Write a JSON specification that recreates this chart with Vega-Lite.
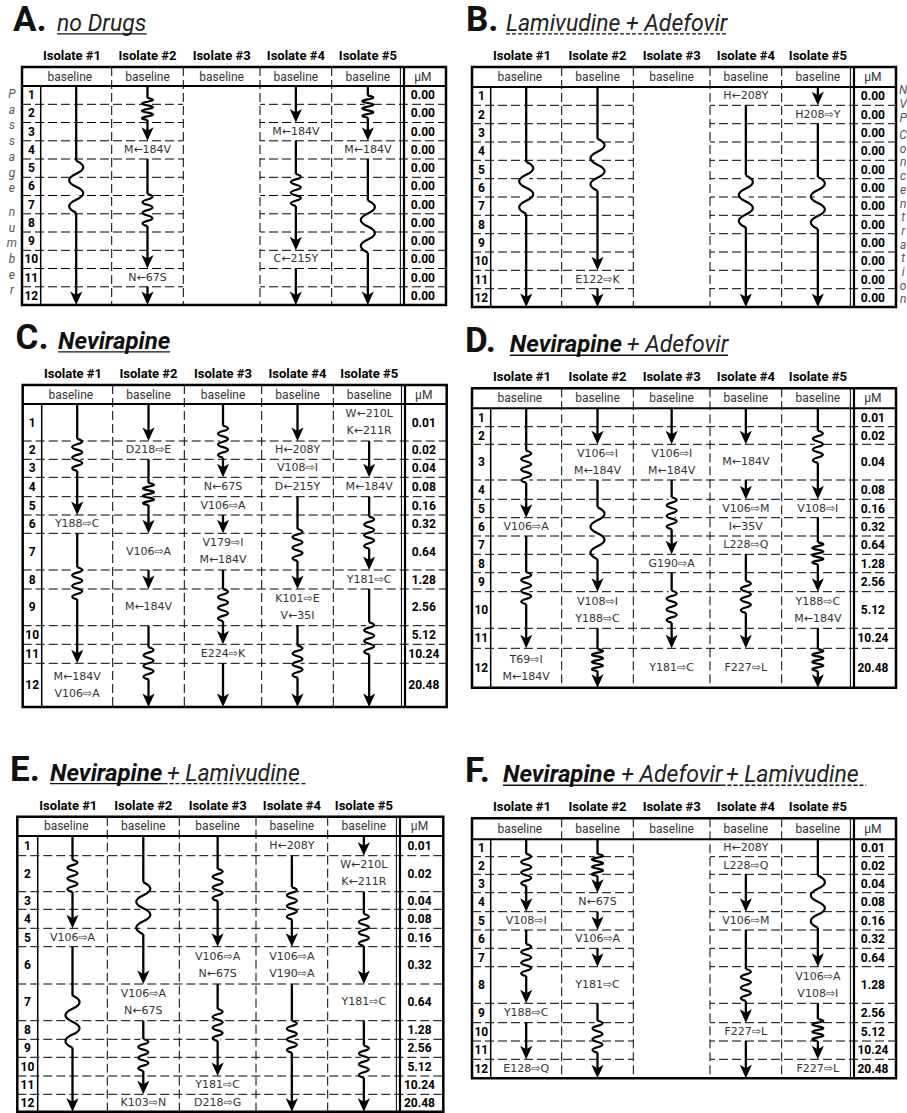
{
"$schema": "https://vega.github.io/schema/vega-lite/v6.json",
"padding": 0,
"spacing": 0,
"bounds": "flush",
"columns": 2,
"background": "white",
"config": {"view": {"stroke": null}, "axis": {"disable": true}, "legend": {"disable": true}, "text": {"font": "Roboto"}},
"datasets": {
"isolates": [{"iso":1,"name":"Isolate #1"},{"iso":2,"name":"Isolate #2"},{"iso":3,"name":"Isolate #3"},{"iso":4,"name":"Isolate #4"},{"iso":5,"name":"Isolate #5"}],
"rows": [
{"p":"A","passage":1,"conc":"0.00"},{"p":"A","passage":2,"conc":"0.00"},{"p":"A","passage":3,"conc":"0.00"},{"p":"A","passage":4,"conc":"0.00"},{"p":"A","passage":5,"conc":"0.00"},{"p":"A","passage":6,"conc":"0.00"},{"p":"A","passage":7,"conc":"0.00"},{"p":"A","passage":8,"conc":"0.00"},{"p":"A","passage":9,"conc":"0.00"},{"p":"A","passage":10,"conc":"0.00"},{"p":"A","passage":11,"conc":"0.00"},{"p":"A","passage":12,"conc":"0.00"},
{"p":"B","passage":1,"conc":"0.00"},{"p":"B","passage":2,"conc":"0.00"},{"p":"B","passage":3,"conc":"0.00"},{"p":"B","passage":4,"conc":"0.00"},{"p":"B","passage":5,"conc":"0.00"},{"p":"B","passage":6,"conc":"0.00"},{"p":"B","passage":7,"conc":"0.00"},{"p":"B","passage":8,"conc":"0.00"},{"p":"B","passage":9,"conc":"0.00"},{"p":"B","passage":10,"conc":"0.00"},{"p":"B","passage":11,"conc":"0.00"},{"p":"B","passage":12,"conc":"0.00"},
{"p":"C","passage":1,"conc":"0.01"},{"p":"C","passage":2,"conc":"0.02"},{"p":"C","passage":3,"conc":"0.04"},{"p":"C","passage":4,"conc":"0.08"},{"p":"C","passage":5,"conc":"0.16"},{"p":"C","passage":6,"conc":"0.32"},{"p":"C","passage":7,"conc":"0.64"},{"p":"C","passage":8,"conc":"1.28"},{"p":"C","passage":9,"conc":"2.56"},{"p":"C","passage":10,"conc":"5.12"},{"p":"C","passage":11,"conc":"10.24"},{"p":"C","passage":12,"conc":"20.48"},
{"p":"D","passage":1,"conc":"0.01"},{"p":"D","passage":2,"conc":"0.02"},{"p":"D","passage":3,"conc":"0.04"},{"p":"D","passage":4,"conc":"0.08"},{"p":"D","passage":5,"conc":"0.16"},{"p":"D","passage":6,"conc":"0.32"},{"p":"D","passage":7,"conc":"0.64"},{"p":"D","passage":8,"conc":"1.28"},{"p":"D","passage":9,"conc":"2.56"},{"p":"D","passage":10,"conc":"5.12"},{"p":"D","passage":11,"conc":"10.24"},{"p":"D","passage":12,"conc":"20.48"},
{"p":"E","passage":1,"conc":"0.01"},{"p":"E","passage":2,"conc":"0.02"},{"p":"E","passage":3,"conc":"0.04"},{"p":"E","passage":4,"conc":"0.08"},{"p":"E","passage":5,"conc":"0.16"},{"p":"E","passage":6,"conc":"0.32"},{"p":"E","passage":7,"conc":"0.64"},{"p":"E","passage":8,"conc":"1.28"},{"p":"E","passage":9,"conc":"2.56"},{"p":"E","passage":10,"conc":"5.12"},{"p":"E","passage":11,"conc":"10.24"},{"p":"E","passage":12,"conc":"20.48"},
{"p":"F","passage":1,"conc":"0.01"},{"p":"F","passage":2,"conc":"0.02"},{"p":"F","passage":3,"conc":"0.04"},{"p":"F","passage":4,"conc":"0.08"},{"p":"F","passage":5,"conc":"0.16"},{"p":"F","passage":6,"conc":"0.32"},{"p":"F","passage":7,"conc":"0.64"},{"p":"F","passage":8,"conc":"1.28"},{"p":"F","passage":9,"conc":"2.56"},{"p":"F","passage":10,"conc":"5.12"},{"p":"F","passage":11,"conc":"10.24"},{"p":"F","passage":12,"conc":"20.48"}
],
"arrows": [
{"p":"A","iso":1,"from":0,"to":12},{"p":"A","iso":2,"from":0,"to":3},{"p":"A","iso":2,"from":4,"to":10},{"p":"A","iso":2,"from":11,"to":12},{"p":"A","iso":4,"from":0,"to":2},{"p":"A","iso":4,"from":3,"to":9},{"p":"A","iso":4,"from":10,"to":12},{"p":"A","iso":5,"from":0,"to":3},{"p":"A","iso":5,"from":4,"to":12},
{"p":"B","iso":1,"from":0,"to":12},{"p":"B","iso":2,"from":0,"to":10},{"p":"B","iso":2,"from":11,"to":12},{"p":"B","iso":4,"from":1,"to":12},{"p":"B","iso":5,"from":0,"to":1},{"p":"B","iso":5,"from":2,"to":12},
{"p":"C","iso":1,"from":0,"to":5},{"p":"C","iso":1,"from":6,"to":11},{"p":"C","iso":2,"from":0,"to":1},{"p":"C","iso":2,"from":2,"to":6},{"p":"C","iso":2,"from":7,"to":8},{"p":"C","iso":2,"from":9,"to":12},{"p":"C","iso":3,"from":0,"to":3},{"p":"C","iso":3,"from":5,"to":6},{"p":"C","iso":3,"from":7,"to":10},{"p":"C","iso":3,"from":11,"to":12},{"p":"C","iso":4,"from":0,"to":1},{"p":"C","iso":4,"from":4,"to":8},{"p":"C","iso":4,"from":9,"to":12},{"p":"C","iso":5,"from":1,"to":3},{"p":"C","iso":5,"from":4,"to":7},{"p":"C","iso":5,"from":8,"to":12},
{"p":"D","iso":1,"from":0,"to":5},{"p":"D","iso":1,"from":6,"to":11},{"p":"D","iso":2,"from":0,"to":2},{"p":"D","iso":2,"from":3,"to":9},{"p":"D","iso":2,"from":10,"to":12},{"p":"D","iso":3,"from":0,"to":2},{"p":"D","iso":3,"from":3,"to":7},{"p":"D","iso":3,"from":8,"to":11},{"p":"D","iso":4,"from":0,"to":2},{"p":"D","iso":4,"from":3,"to":4},{"p":"D","iso":4,"from":7,"to":11},{"p":"D","iso":5,"from":0,"to":4},{"p":"D","iso":5,"from":5,"to":9},{"p":"D","iso":5,"from":10,"to":12},
{"p":"E","iso":1,"from":0,"to":4},{"p":"E","iso":1,"from":5,"to":12},{"p":"E","iso":2,"from":0,"to":6},{"p":"E","iso":2,"from":7,"to":11},{"p":"E","iso":3,"from":0,"to":5},{"p":"E","iso":3,"from":6,"to":10},{"p":"E","iso":4,"from":1,"to":5},{"p":"E","iso":4,"from":6,"to":12},{"p":"E","iso":5,"from":0,"to":1},{"p":"E","iso":5,"from":2,"to":6},{"p":"E","iso":5,"from":7,"to":12},
{"p":"F","iso":1,"from":0,"to":4},{"p":"F","iso":1,"from":5,"to":8},{"p":"F","iso":1,"from":9,"to":11},{"p":"F","iso":2,"from":0,"to":3},{"p":"F","iso":2,"from":4,"to":5},{"p":"F","iso":2,"from":6,"to":7},{"p":"F","iso":2,"from":8,"to":12},{"p":"F","iso":4,"from":2,"to":4},{"p":"F","iso":4,"from":5,"to":9},{"p":"F","iso":4,"from":10,"to":12},{"p":"F","iso":5,"from":0,"to":7},{"p":"F","iso":5,"from":8,"to":11}
],
"waves": [
{"p":"A","iso":1,"at":5.52,"kind":"loose"},{"p":"A","iso":2,"at":1.26,"kind":"coil"},{"p":"A","iso":2,"at":6.8,"kind":"medium"},{"p":"A","iso":4,"at":5.7,"kind":"medium"},{"p":"A","iso":5,"at":1.13,"kind":"coil"},{"p":"A","iso":5,"at":7.7,"kind":"loose"},
{"p":"B","iso":1,"at":5.5,"kind":"loose"},{"p":"B","iso":2,"at":4.24,"kind":"loose"},{"p":"B","iso":4,"at":6.24,"kind":"loose"},{"p":"B","iso":5,"at":6.33,"kind":"loose"},
{"p":"C","iso":1,"at":1.76,"kind":"medium"},{"p":"C","iso":1,"at":7.7,"kind":"medium"},{"p":"C","iso":2,"at":3.86,"kind":"coil"},{"p":"C","iso":2,"at":11.0,"kind":"medium"},{"p":"C","iso":3,"at":1.04,"kind":"medium"},{"p":"C","iso":3,"at":8.44,"kind":"medium"},{"p":"C","iso":4,"at":6.32,"kind":"medium"},{"p":"C","iso":4,"at":10.91,"kind":"medium"},{"p":"C","iso":5,"at":5.96,"kind":"medium"},{"p":"C","iso":5,"at":9.68,"kind":"medium"},
{"p":"D","iso":1,"at":2.63,"kind":"medium"},{"p":"D","iso":1,"at":8.82,"kind":"medium"},{"p":"D","iso":2,"at":5.85,"kind":"loose"},{"p":"D","iso":2,"at":11.3,"kind":"coil"},{"p":"D","iso":3,"at":4.76,"kind":"medium"},{"p":"D","iso":3,"at":9.41,"kind":"medium"},{"p":"D","iso":4,"at":9.14,"kind":"medium"},{"p":"D","iso":5,"at":2.07,"kind":"medium"},{"p":"D","iso":5,"at":6.95,"kind":"coil"},{"p":"D","iso":5,"at":11.3,"kind":"coil"},
{"p":"E","iso":1,"at":1.56,"kind":"medium"},{"p":"E","iso":1,"at":7.05,"kind":"loose"},{"p":"E","iso":2,"at":2.94,"kind":"loose"},{"p":"E","iso":2,"at":8.87,"kind":"medium"},{"p":"E","iso":3,"at":1.81,"kind":"medium"},{"p":"E","iso":3,"at":7.23,"kind":"medium"},{"p":"E","iso":4,"at":2.66,"kind":"medium"},{"p":"E","iso":4,"at":7.86,"kind":"medium"},{"p":"E","iso":5,"at":4.09,"kind":"medium"},{"p":"E","iso":5,"at":9.23,"kind":"medium"},
{"p":"F","iso":1,"at":1.75,"kind":"medium"},{"p":"F","iso":1,"at":6.64,"kind":"medium"},{"p":"F","iso":2,"at":1.47,"kind":"coil"},{"p":"F","iso":2,"at":9.76,"kind":"medium"},{"p":"F","iso":4,"at":7.5,"kind":"medium"},{"p":"F","iso":5,"at":3.47,"kind":"loose"},{"p":"F","iso":5,"at":9.4,"kind":"coil"}
],
"labels": [
{"p":"A","iso":2,"passage":4,"label":"M←184V"},{"p":"A","iso":2,"passage":11,"label":"N←67S"},{"p":"A","iso":4,"passage":3,"label":"M←184V"},{"p":"A","iso":4,"passage":10,"label":"C←215Y"},{"p":"A","iso":5,"passage":4,"label":"M←184V"},
{"p":"B","iso":4,"passage":1,"label":"H←208Y"},{"p":"B","iso":5,"passage":2,"label":"H208⇨Y"},{"p":"B","iso":2,"passage":11,"label":"E122⇨K"},
{"p":"C","iso":1,"passage":6,"label":"Y188⇨C"},{"p":"C","iso":1,"passage":12,"label":"M←184V\nV106⇨A"},{"p":"C","iso":2,"passage":2,"label":"D218⇨E"},{"p":"C","iso":2,"passage":7,"label":"V106⇨A"},{"p":"C","iso":2,"passage":9,"label":"M←184V"},{"p":"C","iso":3,"passage":4,"label":"N←67S"},{"p":"C","iso":3,"passage":5,"label":"V106⇨A"},{"p":"C","iso":3,"passage":7,"label":"V179⇨I\nM←184V"},{"p":"C","iso":3,"passage":11,"label":"E224⇨K"},{"p":"C","iso":4,"passage":2,"label":"H←208Y"},{"p":"C","iso":4,"passage":3,"label":"V108⇨I"},{"p":"C","iso":4,"passage":4,"label":"D←215Y"},{"p":"C","iso":4,"passage":9,"label":"K101⇨E\nV←35I"},{"p":"C","iso":5,"passage":1,"label":"W←210L\nK←211R"},{"p":"C","iso":5,"passage":4,"label":"M←184V"},{"p":"C","iso":5,"passage":8,"label":"Y181⇨C"},
{"p":"D","iso":1,"passage":6,"label":"V106⇨A"},{"p":"D","iso":1,"passage":12,"label":"T69⇨I\nM←184V"},{"p":"D","iso":2,"passage":3,"label":"V106⇨I\nM←184V"},{"p":"D","iso":2,"passage":10,"label":"V108⇨I\nY188⇨C"},{"p":"D","iso":3,"passage":3,"label":"V106⇨I\nM←184V"},{"p":"D","iso":3,"passage":8,"label":"G190⇨A"},{"p":"D","iso":3,"passage":12,"label":"Y181⇨C"},{"p":"D","iso":4,"passage":3,"label":"M←184V"},{"p":"D","iso":4,"passage":5,"label":"V106⇨M"},{"p":"D","iso":4,"passage":6,"label":"I←35V"},{"p":"D","iso":4,"passage":7,"label":"L228⇨Q"},{"p":"D","iso":4,"passage":12,"label":"F227⇨L"},{"p":"D","iso":5,"passage":5,"label":"V108⇨I"},{"p":"D","iso":5,"passage":10,"label":"Y188⇨C\nM←184V"},
{"p":"E","iso":1,"passage":5,"label":"V106⇨A"},{"p":"E","iso":2,"passage":7,"label":"V106⇨A\nN←67S"},{"p":"E","iso":2,"passage":12,"label":"K103⇨N"},{"p":"E","iso":3,"passage":6,"label":"V106⇨A\nN←67S"},{"p":"E","iso":3,"passage":11,"label":"Y181⇨C"},{"p":"E","iso":3,"passage":12,"label":"D218⇨G"},{"p":"E","iso":4,"passage":1,"label":"H←208Y"},{"p":"E","iso":4,"passage":6,"label":"V106⇨A\nV190⇨A"},{"p":"E","iso":5,"passage":2,"label":"W←210L\nK←211R"},{"p":"E","iso":5,"passage":7,"label":"Y181⇨C"},
{"p":"F","iso":1,"passage":5,"label":"V108⇨I"},{"p":"F","iso":1,"passage":9,"label":"Y188⇨C"},{"p":"F","iso":1,"passage":12,"label":"E128⇨Q"},{"p":"F","iso":2,"passage":4,"label":"N←67S"},{"p":"F","iso":2,"passage":6,"label":"V106⇨A"},{"p":"F","iso":2,"passage":8,"label":"Y181⇨C"},{"p":"F","iso":4,"passage":1,"label":"H←208Y"},{"p":"F","iso":4,"passage":2,"label":"L228⇨Q"},{"p":"F","iso":4,"passage":5,"label":"V106⇨M"},{"p":"F","iso":4,"passage":10,"label":"F227⇨L"},{"p":"F","iso":5,"passage":8,"label":"V106⇨A\nV108⇨I"},{"p":"F","iso":5,"passage":12,"label":"F227⇨L"}
]
},
"concat": [
{"width": 450, "height": 310, "data": {"values": [{}]}, "resolve": {"scale": {"shape": "independent"}},
"layer": [
{"data":{"name":"rows"},"transform":[{"filter":"datum.p=='A' && datum.passage<12"}],"mark":{"type":"rule","strokeDash":[9,4],"strokeWidth":1,"color":"#000"},"encoding":{"x":{"datum":0,"type":"quantitative","scale":{"domain":[0,0.5,1.5,2.5,3.5,4.5,5.5,6.5],"range":[22,40.7,111.7,183.3,260,331.7,404,446],"zero":false,"nice":false}},"x2":{"datum":6.5},"y":{"field":"passage","type":"quantitative","scale":{"domain":[-5,-1,0,1,2,3,4,5,6,7,8,9,10,11,12],"range":[-9,67,86,104.3,122.5,140.8,159,177.3,195.5,213.8,232,250.3,268.5,286.8,305],"zero":false,"nice":false}}}},
{"mark":{"type":"rect","color":"#fff"},"encoding":{"x":{"datum":2.5,"type":"quantitative"},"x2":{"datum":3.5},"y":{"datum":0,"type":"quantitative"},"y2":{"datum":12}}},
{"data":{"name":"isolates"},"transform":[{"filter":"datum.iso<5"},{"calculate":"datum.iso+0.5","as":"edge"}],"mark":{"type":"rule","strokeDash":[9,4],"strokeWidth":1,"color":"#000"},"encoding":{"x":{"field":"edge","type":"quantitative"},"y":{"datum":-1,"type":"quantitative"},"y2":{"datum":12}}},
{"mark":{"type":"rule","strokeWidth":2,"color":"#000"},"encoding":{"x":{"datum":0,"type":"quantitative"},"x2":{"datum":6.5},"y":{"datum":0,"type":"quantitative"}}},
{"mark":{"type":"rule","strokeWidth":1.5,"color":"#000"},"encoding":{"x":{"datum":0.5,"type":"quantitative"},"y":{"datum":0,"type":"quantitative"},"y2":{"datum":12}}},
{"mark":{"type":"rule","strokeWidth":1,"color":"#000"},"encoding":{"x":{"datum":5.45,"type":"quantitative"},"y":{"datum":-1,"type":"quantitative"},"y2":{"datum":12}}},
{"mark":{"type":"rule","strokeWidth":2.2,"color":"#000"},"encoding":{"x":{"datum":5.5,"type":"quantitative"},"y":{"datum":-1,"type":"quantitative"},"y2":{"datum":12}}},
{"mark":{"type":"rect","filled":false,"color":"#000","strokeWidth":2.5},"encoding":{"x":{"datum":0,"type":"quantitative"},"x2":{"datum":6.5},"y":{"datum":-1,"type":"quantitative"},"y2":{"datum":12}}},
{"data":{"name":"arrows"},"transform":[{"filter":"datum.p=='A'"}],"mark":{"type":"rule","strokeWidth":2.3,"color":"#000","y2Offset":-4},"encoding":{"x":{"field":"iso","type":"quantitative"},"y":{"field":"from","type":"quantitative"},"y2":{"field":"to"}}},
{"data":{"name":"waves"},"transform":[{"filter":"datum.p=='A'"}],"mark":{"type":"point","filled":true,"color":"#fff","opacity":1,"size":3600,"strokeWidth":0},"encoding":{"x":{"field":"iso","type":"quantitative"},"y":{"field":"at","type":"quantitative"},"shape":{"field":"kind","type":"nominal","legend":null,"scale":{"domain":["coil","medium","loose"],"range":["M-0.1,-0.367H0.1V0.367H-0.1Z","M-0.1,-0.533H0.1V0.533H-0.1Z","M-0.1,-0.867H0.1V0.867H-0.1Z"]}}}},
{"data":{"name":"waves"},"transform":[{"filter":"datum.p=='A'"}],"mark":{"type":"point","filled":false,"color":"#000","opacity":1,"size":3600,"strokeWidth":2.2},"encoding":{"x":{"field":"iso","type":"quantitative"},"y":{"field":"at","type":"quantitative"},"shape":{"field":"kind","type":"nominal","legend":null,"scale":{"domain":["coil","medium","loose"],"range":["M0,-0.367Q0.367,-0.306,0,-0.244Q-0.367,-0.183,0,-0.122Q0.367,-0.061,0,0Q-0.367,0.061,0,0.122Q0.367,0.183,0,0.244Q-0.367,0.306,0,0.367","M0,-0.533Q0.333,-0.444,0,-0.356Q-0.333,-0.267,0,-0.178Q0.333,-0.089,0,0Q-0.333,0.089,0,0.178Q0.333,0.267,0,0.356Q-0.333,0.444,0,0.533","M0,-0.867Q0.47,-0.65,0,-0.433Q-0.47,-0.217,0,0Q0.47,0.217,0,0.433Q-0.47,0.65,0,0.867"]}}}},
{"data":{"name":"arrows"},"transform":[{"filter":"datum.p=='A'"}],"mark":{"type":"point","shape":"M-0.9,-1L0,-0.5L0.9,-1L0,1Z","filled":true,"color":"#000","opacity":1,"size":182,"yOffset":-6.7,"strokeWidth":0},"encoding":{"x":{"field":"iso","type":"quantitative"},"y":{"field":"to","type":"quantitative"}}},
{"data":{"name":"labels"},"transform":[{"filter":"datum.p=='A' && indexof(datum.label,'\\n')<0"},{"calculate":"datum.passage-0.5","as":"yc"}],"mark":{"type":"text","font":"DejaVu Sans","fontSize":11,"color":"#333","baseline":"middle"},"encoding":{"x":{"field":"iso","type":"quantitative"},"y":{"field":"yc","type":"quantitative"},"text":{"field":"label"}}},
{"data":{"name":"rows"},"transform":[{"filter":"datum.p=='A'"},{"calculate":"datum.passage-0.5","as":"yc"}],"mark":{"type":"text","fontSize":12,"fontWeight":"bold","color":"#000","baseline":"middle"},"encoding":{"x":{"datum":0.25,"type":"quantitative"},"y":{"field":"yc","type":"quantitative"},"text":{"field":"passage","type":"nominal"}}},
{"data":{"name":"rows"},"transform":[{"filter":"datum.p=='A'"},{"calculate":"datum.passage-0.5","as":"yc"}],"mark":{"type":"text","fontSize":12,"fontWeight":"bold","color":"#000","baseline":"middle"},"encoding":{"x":{"datum":5.95,"type":"quantitative"},"y":{"field":"yc","type":"quantitative"},"text":{"field":"conc"}}},
{"data":{"name":"isolates"},"transform":[{"calculate":"datum.iso==1?0.91:datum.iso","as":"bx"}],"mark":{"type":"text","fontSize":12,"color":"#333","baseline":"middle"},"encoding":{"x":{"field":"bx","type":"quantitative"},"y":{"datum":-0.5,"type":"quantitative"},"text":{"value":"baseline"}}},
{"mark":{"type":"text","fontSize":12,"color":"#333","baseline":"middle"},"encoding":{"x":{"datum":5.95,"type":"quantitative"},"y":{"datum":-0.5,"type":"quantitative"},"text":{"value":"μM"}}},
{"data":{"name":"isolates"},"transform":[{"calculate":"datum.iso==1?0.94:datum.iso","as":"bx"}],"mark":{"type":"text","fontSize":13,"fontWeight":"bold","color":"#000","baseline":"middle"},"encoding":{"x":{"field":"bx","type":"quantitative"},"y":{"datum":-1.58,"type":"quantitative"},"text":{"field":"name"}}},
{"mark":{"type":"text","align":"left","baseline":"alphabetic","fontSize":35,"fontWeight":"bold","color":"#111"},"encoding":{"x":{"datum":-0.24,"type":"quantitative"},"y":{"datum":-2.9,"type":"quantitative"},"text":{"value":"A."}}},
{"mark":{"type":"text","align":"left","baseline":"alphabetic","fontSize":23,"fontStyle":"italic","color":"#222"},"encoding":{"x":{"datum":0.73,"type":"quantitative"},"y":{"datum":-2.9,"type":"quantitative"},"text":{"value":"no Drugs"}}},
{"mark":{"type":"rule","strokeWidth":1.3,"color":"#111"},"encoding":{"x":{"datum":0.73,"type":"quantitative"},"x2":{"datum":1.99},"y":{"datum":-2.74,"type":"quantitative"}}},
{"mark":{"type":"text","fontSize":12,"fontStyle":"italic","color":"#555","baseline":"middle","lineHeight":15.7},"encoding":{"x":{"datum":-0.27,"type":"quantitative"},"y":{"datum":0.44,"type":"quantitative"},"text":{"value":["P","a","s","s","a","g","e"]}}},
{"mark":{"type":"text","fontSize":12,"fontStyle":"italic","color":"#555","baseline":"middle","lineHeight":15.7},"encoding":{"x":{"datum":-0.27,"type":"quantitative"},"y":{"datum":6.9,"type":"quantitative"},"text":{"value":["n","u","m","b","e","r"]}}}
]},
{"width": 457, "height": 310, "data": {"values": [{}]}, "resolve": {"scale": {"shape": "independent"}},
"layer": [
{"data":{"name":"rows"},"transform":[{"filter":"datum.p=='B' && datum.passage<12"}],"mark":{"type":"rule","strokeDash":[9,4],"strokeWidth":1,"color":"#000"},"encoding":{"x":{"datum":0,"type":"quantitative","scale":{"domain":[0,0.5,1.5,2.5,3.5,4.5,5.5,6.5],"range":[22,40.7,111.7,183.3,260,331.7,404,446],"zero":false,"nice":false}},"x2":{"datum":6.5},"y":{"field":"passage","type":"quantitative","scale":{"domain":[-5,-1,0,1,2,3,4,5,6,7,8,9,10,11,12],"range":[-9,67,87,105.3,123.7,142,160.3,178.7,197,215.3,233.7,252,270.3,288.7,307],"zero":false,"nice":false}}}},
{"mark":{"type":"rect","color":"#fff"},"encoding":{"x":{"datum":2.5,"type":"quantitative"},"x2":{"datum":3.5},"y":{"datum":0,"type":"quantitative"},"y2":{"datum":12}}},
{"data":{"name":"isolates"},"transform":[{"filter":"datum.iso<5"},{"calculate":"datum.iso+0.5","as":"edge"}],"mark":{"type":"rule","strokeDash":[9,4],"strokeWidth":1,"color":"#000"},"encoding":{"x":{"field":"edge","type":"quantitative"},"y":{"datum":-1,"type":"quantitative"},"y2":{"datum":12}}},
{"mark":{"type":"rule","strokeWidth":2,"color":"#000"},"encoding":{"x":{"datum":0,"type":"quantitative"},"x2":{"datum":6.5},"y":{"datum":0,"type":"quantitative"}}},
{"mark":{"type":"rule","strokeWidth":1.5,"color":"#000"},"encoding":{"x":{"datum":0.5,"type":"quantitative"},"y":{"datum":0,"type":"quantitative"},"y2":{"datum":12}}},
{"mark":{"type":"rule","strokeWidth":1,"color":"#000"},"encoding":{"x":{"datum":5.45,"type":"quantitative"},"y":{"datum":-1,"type":"quantitative"},"y2":{"datum":12}}},
{"mark":{"type":"rule","strokeWidth":2.2,"color":"#000"},"encoding":{"x":{"datum":5.5,"type":"quantitative"},"y":{"datum":-1,"type":"quantitative"},"y2":{"datum":12}}},
{"mark":{"type":"rect","filled":false,"color":"#000","strokeWidth":2.5},"encoding":{"x":{"datum":0,"type":"quantitative"},"x2":{"datum":6.5},"y":{"datum":-1,"type":"quantitative"},"y2":{"datum":12}}},
{"data":{"name":"arrows"},"transform":[{"filter":"datum.p=='B'"}],"mark":{"type":"rule","strokeWidth":2.3,"color":"#000","y2Offset":-4},"encoding":{"x":{"field":"iso","type":"quantitative"},"y":{"field":"from","type":"quantitative"},"y2":{"field":"to"}}},
{"data":{"name":"waves"},"transform":[{"filter":"datum.p=='B'"}],"mark":{"type":"point","filled":true,"color":"#fff","opacity":1,"size":3600,"strokeWidth":0},"encoding":{"x":{"field":"iso","type":"quantitative"},"y":{"field":"at","type":"quantitative"},"shape":{"field":"kind","type":"nominal","legend":null,"scale":{"domain":["coil","medium","loose"],"range":["M-0.1,-0.367H0.1V0.367H-0.1Z","M-0.1,-0.533H0.1V0.533H-0.1Z","M-0.1,-0.867H0.1V0.867H-0.1Z"]}}}},
{"data":{"name":"waves"},"transform":[{"filter":"datum.p=='B'"}],"mark":{"type":"point","filled":false,"color":"#000","opacity":1,"size":3600,"strokeWidth":2.2},"encoding":{"x":{"field":"iso","type":"quantitative"},"y":{"field":"at","type":"quantitative"},"shape":{"field":"kind","type":"nominal","legend":null,"scale":{"domain":["coil","medium","loose"],"range":["M0,-0.367Q0.367,-0.306,0,-0.244Q-0.367,-0.183,0,-0.122Q0.367,-0.061,0,0Q-0.367,0.061,0,0.122Q0.367,0.183,0,0.244Q-0.367,0.306,0,0.367","M0,-0.533Q0.333,-0.444,0,-0.356Q-0.333,-0.267,0,-0.178Q0.333,-0.089,0,0Q-0.333,0.089,0,0.178Q0.333,0.267,0,0.356Q-0.333,0.444,0,0.533","M0,-0.867Q0.47,-0.65,0,-0.433Q-0.47,-0.217,0,0Q0.47,0.217,0,0.433Q-0.47,0.65,0,0.867"]}}}},
{"data":{"name":"arrows"},"transform":[{"filter":"datum.p=='B'"}],"mark":{"type":"point","shape":"M-0.9,-1L0,-0.5L0.9,-1L0,1Z","filled":true,"color":"#000","opacity":1,"size":182,"yOffset":-6.7,"strokeWidth":0},"encoding":{"x":{"field":"iso","type":"quantitative"},"y":{"field":"to","type":"quantitative"}}},
{"data":{"name":"labels"},"transform":[{"filter":"datum.p=='B' && indexof(datum.label,'\\n')<0"},{"calculate":"datum.passage-0.5","as":"yc"}],"mark":{"type":"text","font":"DejaVu Sans","fontSize":11,"color":"#333","baseline":"middle"},"encoding":{"x":{"field":"iso","type":"quantitative"},"y":{"field":"yc","type":"quantitative"},"text":{"field":"label"}}},
{"data":{"name":"rows"},"transform":[{"filter":"datum.p=='B'"},{"calculate":"datum.passage-0.5","as":"yc"}],"mark":{"type":"text","fontSize":12,"fontWeight":"bold","color":"#000","baseline":"middle"},"encoding":{"x":{"datum":0.25,"type":"quantitative"},"y":{"field":"yc","type":"quantitative"},"text":{"field":"passage","type":"nominal"}}},
{"data":{"name":"rows"},"transform":[{"filter":"datum.p=='B'"},{"calculate":"datum.passage-0.5","as":"yc"}],"mark":{"type":"text","fontSize":12,"fontWeight":"bold","color":"#000","baseline":"middle"},"encoding":{"x":{"datum":5.95,"type":"quantitative"},"y":{"field":"yc","type":"quantitative"},"text":{"field":"conc"}}},
{"data":{"name":"isolates"},"transform":[{"calculate":"datum.iso==1?0.91:datum.iso","as":"bx"}],"mark":{"type":"text","fontSize":12,"color":"#333","baseline":"middle"},"encoding":{"x":{"field":"bx","type":"quantitative"},"y":{"datum":-0.5,"type":"quantitative"},"text":{"value":"baseline"}}},
{"mark":{"type":"text","fontSize":12,"color":"#333","baseline":"middle"},"encoding":{"x":{"datum":5.95,"type":"quantitative"},"y":{"datum":-0.5,"type":"quantitative"},"text":{"value":"μM"}}},
{"data":{"name":"isolates"},"transform":[{"calculate":"datum.iso==1?0.94:datum.iso","as":"bx"}],"mark":{"type":"text","fontSize":13,"fontWeight":"bold","color":"#000","baseline":"middle"},"encoding":{"x":{"field":"bx","type":"quantitative"},"y":{"datum":-1.58,"type":"quantitative"},"text":{"field":"name"}}},
{"mark":{"type":"text","align":"left","baseline":"alphabetic","fontSize":35,"fontWeight":"bold","color":"#111"},"encoding":{"x":{"datum":-0.16,"type":"quantitative"},"y":{"datum":-2.9,"type":"quantitative"},"text":{"value":"B."}}},
{"mark":{"type":"text","align":"left","baseline":"alphabetic","fontSize":23,"fontStyle":"italic","color":"#222"},"encoding":{"x":{"datum":0.715,"type":"quantitative"},"y":{"datum":-2.9,"type":"quantitative"},"text":{"value":"Lamivudine + Adefovir"}}},
{"mark":{"type":"rule","strokeWidth":1.3,"color":"#111","strokeDash":[4,2]},"encoding":{"x":{"datum":0.715,"type":"quantitative"},"x2":{"datum":3.751},"y":{"datum":-2.74,"type":"quantitative"}}},
{"mark":{"type":"text","fontSize":12,"fontStyle":"italic","color":"#555","baseline":"middle","lineHeight":14},"encoding":{"x":{"datum":6.67,"type":"quantitative"},"y":{"datum":0.16,"type":"quantitative"},"text":{"value":["N","V","P"]}}},
{"mark":{"type":"text","fontSize":12,"fontStyle":"italic","color":"#555","baseline":"middle","lineHeight":13.7},"encoding":{"x":{"datum":6.67,"type":"quantitative"},"y":{"datum":2.62,"type":"quantitative"},"text":{"value":["C","o","n","c","e","n","t","r","a","t","i","o","n"]}}}
]},
{"width": 450, "height": 400, "data": {"values": [{}]}, "resolve": {"scale": {"shape": "independent"}},
"layer": [
{"data":{"name":"rows"},"transform":[{"filter":"datum.p=='C' && datum.passage<12"}],"mark":{"type":"rule","strokeDash":[9,4],"strokeWidth":1,"color":"#000"},"encoding":{"x":{"datum":0,"type":"quantitative","scale":{"domain":[0,0.5,1.5,2.5,3.5,4.5,5.5,6.5],"range":[22.7,41.7,112.7,184.3,261.7,333.3,405,446.7],"zero":false,"nice":false}},"x2":{"datum":6.5},"y":{"field":"passage","type":"quantitative","scale":{"domain":[-5,-1,0,1,2,3,4,5,6,7,8,9,10,11,12],"range":[-1,75,94,131,149.3,167.3,186.7,205,223.3,260,279,315.7,334.3,353.3,397],"zero":false,"nice":false}}}},
{"data":{"name":"isolates"},"transform":[{"filter":"datum.iso<5"},{"calculate":"datum.iso+0.5","as":"edge"}],"mark":{"type":"rule","strokeDash":[9,4],"strokeWidth":1,"color":"#000"},"encoding":{"x":{"field":"edge","type":"quantitative"},"y":{"datum":-1,"type":"quantitative"},"y2":{"datum":12}}},
{"mark":{"type":"rule","strokeWidth":2,"color":"#000"},"encoding":{"x":{"datum":0,"type":"quantitative"},"x2":{"datum":6.5},"y":{"datum":0,"type":"quantitative"}}},
{"mark":{"type":"rule","strokeWidth":1.5,"color":"#000"},"encoding":{"x":{"datum":0.5,"type":"quantitative"},"y":{"datum":0,"type":"quantitative"},"y2":{"datum":12}}},
{"mark":{"type":"rule","strokeWidth":1,"color":"#000"},"encoding":{"x":{"datum":5.45,"type":"quantitative"},"y":{"datum":-1,"type":"quantitative"},"y2":{"datum":12}}},
{"mark":{"type":"rule","strokeWidth":2.2,"color":"#000"},"encoding":{"x":{"datum":5.5,"type":"quantitative"},"y":{"datum":-1,"type":"quantitative"},"y2":{"datum":12}}},
{"mark":{"type":"rect","filled":false,"color":"#000","strokeWidth":2.5},"encoding":{"x":{"datum":0,"type":"quantitative"},"x2":{"datum":6.5},"y":{"datum":-1,"type":"quantitative"},"y2":{"datum":12}}},
{"data":{"name":"arrows"},"transform":[{"filter":"datum.p=='C'"}],"mark":{"type":"rule","strokeWidth":2.3,"color":"#000","y2Offset":-4},"encoding":{"x":{"field":"iso","type":"quantitative"},"y":{"field":"from","type":"quantitative"},"y2":{"field":"to"}}},
{"data":{"name":"waves"},"transform":[{"filter":"datum.p=='C'"}],"mark":{"type":"point","filled":true,"color":"#fff","opacity":1,"size":3600,"strokeWidth":0},"encoding":{"x":{"field":"iso","type":"quantitative"},"y":{"field":"at","type":"quantitative"},"shape":{"field":"kind","type":"nominal","legend":null,"scale":{"domain":["coil","medium","loose"],"range":["M-0.1,-0.367H0.1V0.367H-0.1Z","M-0.1,-0.533H0.1V0.533H-0.1Z","M-0.1,-0.867H0.1V0.867H-0.1Z"]}}}},
{"data":{"name":"waves"},"transform":[{"filter":"datum.p=='C'"}],"mark":{"type":"point","filled":false,"color":"#000","opacity":1,"size":3600,"strokeWidth":2.2},"encoding":{"x":{"field":"iso","type":"quantitative"},"y":{"field":"at","type":"quantitative"},"shape":{"field":"kind","type":"nominal","legend":null,"scale":{"domain":["coil","medium","loose"],"range":["M0,-0.367Q0.367,-0.306,0,-0.244Q-0.367,-0.183,0,-0.122Q0.367,-0.061,0,0Q-0.367,0.061,0,0.122Q0.367,0.183,0,0.244Q-0.367,0.306,0,0.367","M0,-0.533Q0.333,-0.444,0,-0.356Q-0.333,-0.267,0,-0.178Q0.333,-0.089,0,0Q-0.333,0.089,0,0.178Q0.333,0.267,0,0.356Q-0.333,0.444,0,0.533","M0,-0.867Q0.47,-0.65,0,-0.433Q-0.47,-0.217,0,0Q0.47,0.217,0,0.433Q-0.47,0.65,0,0.867"]}}}},
{"data":{"name":"arrows"},"transform":[{"filter":"datum.p=='C'"}],"mark":{"type":"point","shape":"M-0.9,-1L0,-0.5L0.9,-1L0,1Z","filled":true,"color":"#000","opacity":1,"size":182,"yOffset":-6.7,"strokeWidth":0},"encoding":{"x":{"field":"iso","type":"quantitative"},"y":{"field":"to","type":"quantitative"}}},
{"data":{"name":"labels"},"transform":[{"filter":"datum.p=='C' && indexof(datum.label,'\\n')<0"},{"calculate":"datum.passage-0.5","as":"yc"}],"mark":{"type":"text","font":"DejaVu Sans","fontSize":11,"color":"#333","baseline":"middle"},"encoding":{"x":{"field":"iso","type":"quantitative"},"y":{"field":"yc","type":"quantitative"},"text":{"field":"label"}}},
{"data":{"name":"labels"},"transform":[{"filter":"datum.p=='C' && indexof(datum.label,'\\n')>=0"},{"calculate":"datum.passage-0.5","as":"yc"}],"mark":{"type":"text","font":"DejaVu Sans","fontSize":11,"color":"#333","baseline":"middle","lineBreak":"\n","lineHeight":17,"dy":-8.5},"encoding":{"x":{"field":"iso","type":"quantitative"},"y":{"field":"yc","type":"quantitative"},"text":{"field":"label"}}},
{"data":{"name":"rows"},"transform":[{"filter":"datum.p=='C'"},{"calculate":"datum.passage-0.5","as":"yc"}],"mark":{"type":"text","fontSize":12,"fontWeight":"bold","color":"#000","baseline":"middle"},"encoding":{"x":{"datum":0.25,"type":"quantitative"},"y":{"field":"yc","type":"quantitative"},"text":{"field":"passage","type":"nominal"}}},
{"data":{"name":"rows"},"transform":[{"filter":"datum.p=='C'"},{"calculate":"datum.passage-0.5","as":"yc"}],"mark":{"type":"text","fontSize":12,"fontWeight":"bold","color":"#000","baseline":"middle"},"encoding":{"x":{"datum":5.95,"type":"quantitative"},"y":{"field":"yc","type":"quantitative"},"text":{"field":"conc"}}},
{"data":{"name":"isolates"},"transform":[{"calculate":"datum.iso==1?0.91:datum.iso","as":"bx"}],"mark":{"type":"text","fontSize":12,"color":"#333","baseline":"middle"},"encoding":{"x":{"field":"bx","type":"quantitative"},"y":{"datum":-0.5,"type":"quantitative"},"text":{"value":"baseline"}}},
{"mark":{"type":"text","fontSize":12,"color":"#333","baseline":"middle"},"encoding":{"x":{"datum":5.95,"type":"quantitative"},"y":{"datum":-0.5,"type":"quantitative"},"text":{"value":"μM"}}},
{"data":{"name":"isolates"},"transform":[{"calculate":"datum.iso==1?0.94:datum.iso","as":"bx"}],"mark":{"type":"text","fontSize":13,"fontWeight":"bold","color":"#000","baseline":"middle"},"encoding":{"x":{"field":"bx","type":"quantitative"},"y":{"datum":-1.58,"type":"quantitative"},"text":{"field":"name"}}},
{"mark":{"type":"text","align":"left","baseline":"alphabetic","fontSize":35,"fontWeight":"bold","color":"#111"},"encoding":{"x":{"datum":-0.19,"type":"quantitative"},"y":{"datum":-2.9,"type":"quantitative"},"text":{"value":"C."}}},
{"mark":{"type":"text","align":"left","baseline":"alphabetic","fontSize":24,"fontWeight":"bold","fontStyle":"italic","color":"#111"},"encoding":{"x":{"datum":0.73,"type":"quantitative"},"y":{"datum":-2.9,"type":"quantitative"},"text":{"value":"Nevirapine"}}},
{"mark":{"type":"rule","strokeWidth":1.3,"color":"#111"},"encoding":{"x":{"datum":0.73,"type":"quantitative"},"x2":{"datum":2.3},"y":{"datum":-2.74,"type":"quantitative"}}}
]},
{"width": 457, "height": 400, "data": {"values": [{}]}, "resolve": {"scale": {"shape": "independent"}},
"layer": [
{"data":{"name":"rows"},"transform":[{"filter":"datum.p=='D' && datum.passage<12"}],"mark":{"type":"rule","strokeDash":[9,4],"strokeWidth":1,"color":"#000"},"encoding":{"x":{"datum":0,"type":"quantitative","scale":{"domain":[0,0.5,1.5,2.5,3.5,4.5,5.5,6.5],"range":[22,40.7,111.7,183.3,260,331.7,404,446],"zero":false,"nice":false}},"x2":{"datum":6.5},"y":{"field":"passage","type":"quantitative","scale":{"domain":[-5,-1,0,1,2,3,4,5,6,7,8,9,10,11,12],"range":[2.3,78.3,98.3,116.7,134.3,170,189.3,207.7,226,244.3,262.7,281.7,318.3,338.3,377.7],"zero":false,"nice":false}}}},
{"data":{"name":"isolates"},"transform":[{"filter":"datum.iso<5"},{"calculate":"datum.iso+0.5","as":"edge"}],"mark":{"type":"rule","strokeDash":[9,4],"strokeWidth":1,"color":"#000"},"encoding":{"x":{"field":"edge","type":"quantitative"},"y":{"datum":-1,"type":"quantitative"},"y2":{"datum":12}}},
{"mark":{"type":"rule","strokeWidth":2,"color":"#000"},"encoding":{"x":{"datum":0,"type":"quantitative"},"x2":{"datum":6.5},"y":{"datum":0,"type":"quantitative"}}},
{"mark":{"type":"rule","strokeWidth":1.5,"color":"#000"},"encoding":{"x":{"datum":0.5,"type":"quantitative"},"y":{"datum":0,"type":"quantitative"},"y2":{"datum":12}}},
{"mark":{"type":"rule","strokeWidth":1,"color":"#000"},"encoding":{"x":{"datum":5.45,"type":"quantitative"},"y":{"datum":-1,"type":"quantitative"},"y2":{"datum":12}}},
{"mark":{"type":"rule","strokeWidth":2.2,"color":"#000"},"encoding":{"x":{"datum":5.5,"type":"quantitative"},"y":{"datum":-1,"type":"quantitative"},"y2":{"datum":12}}},
{"mark":{"type":"rect","filled":false,"color":"#000","strokeWidth":2.5},"encoding":{"x":{"datum":0,"type":"quantitative"},"x2":{"datum":6.5},"y":{"datum":-1,"type":"quantitative"},"y2":{"datum":12}}},
{"data":{"name":"arrows"},"transform":[{"filter":"datum.p=='D'"}],"mark":{"type":"rule","strokeWidth":2.3,"color":"#000","y2Offset":-4},"encoding":{"x":{"field":"iso","type":"quantitative"},"y":{"field":"from","type":"quantitative"},"y2":{"field":"to"}}},
{"data":{"name":"waves"},"transform":[{"filter":"datum.p=='D'"}],"mark":{"type":"point","filled":true,"color":"#fff","opacity":1,"size":3600,"strokeWidth":0},"encoding":{"x":{"field":"iso","type":"quantitative"},"y":{"field":"at","type":"quantitative"},"shape":{"field":"kind","type":"nominal","legend":null,"scale":{"domain":["coil","medium","loose"],"range":["M-0.1,-0.367H0.1V0.367H-0.1Z","M-0.1,-0.533H0.1V0.533H-0.1Z","M-0.1,-0.867H0.1V0.867H-0.1Z"]}}}},
{"data":{"name":"waves"},"transform":[{"filter":"datum.p=='D'"}],"mark":{"type":"point","filled":false,"color":"#000","opacity":1,"size":3600,"strokeWidth":2.2},"encoding":{"x":{"field":"iso","type":"quantitative"},"y":{"field":"at","type":"quantitative"},"shape":{"field":"kind","type":"nominal","legend":null,"scale":{"domain":["coil","medium","loose"],"range":["M0,-0.367Q0.367,-0.306,0,-0.244Q-0.367,-0.183,0,-0.122Q0.367,-0.061,0,0Q-0.367,0.061,0,0.122Q0.367,0.183,0,0.244Q-0.367,0.306,0,0.367","M0,-0.533Q0.333,-0.444,0,-0.356Q-0.333,-0.267,0,-0.178Q0.333,-0.089,0,0Q-0.333,0.089,0,0.178Q0.333,0.267,0,0.356Q-0.333,0.444,0,0.533","M0,-0.867Q0.47,-0.65,0,-0.433Q-0.47,-0.217,0,0Q0.47,0.217,0,0.433Q-0.47,0.65,0,0.867"]}}}},
{"data":{"name":"arrows"},"transform":[{"filter":"datum.p=='D'"}],"mark":{"type":"point","shape":"M-0.9,-1L0,-0.5L0.9,-1L0,1Z","filled":true,"color":"#000","opacity":1,"size":182,"yOffset":-6.7,"strokeWidth":0},"encoding":{"x":{"field":"iso","type":"quantitative"},"y":{"field":"to","type":"quantitative"}}},
{"data":{"name":"labels"},"transform":[{"filter":"datum.p=='D' && indexof(datum.label,'\\n')<0"},{"calculate":"datum.passage-0.5","as":"yc"}],"mark":{"type":"text","font":"DejaVu Sans","fontSize":11,"color":"#333","baseline":"middle"},"encoding":{"x":{"field":"iso","type":"quantitative"},"y":{"field":"yc","type":"quantitative"},"text":{"field":"label"}}},
{"data":{"name":"labels"},"transform":[{"filter":"datum.p=='D' && indexof(datum.label,'\\n')>=0"},{"calculate":"datum.passage-0.5","as":"yc"}],"mark":{"type":"text","font":"DejaVu Sans","fontSize":11,"color":"#333","baseline":"middle","lineBreak":"\n","lineHeight":17,"dy":-8.5},"encoding":{"x":{"field":"iso","type":"quantitative"},"y":{"field":"yc","type":"quantitative"},"text":{"field":"label"}}},
{"data":{"name":"rows"},"transform":[{"filter":"datum.p=='D'"},{"calculate":"datum.passage-0.5","as":"yc"}],"mark":{"type":"text","fontSize":12,"fontWeight":"bold","color":"#000","baseline":"middle"},"encoding":{"x":{"datum":0.25,"type":"quantitative"},"y":{"field":"yc","type":"quantitative"},"text":{"field":"passage","type":"nominal"}}},
{"data":{"name":"rows"},"transform":[{"filter":"datum.p=='D'"},{"calculate":"datum.passage-0.5","as":"yc"}],"mark":{"type":"text","fontSize":12,"fontWeight":"bold","color":"#000","baseline":"middle"},"encoding":{"x":{"datum":5.95,"type":"quantitative"},"y":{"field":"yc","type":"quantitative"},"text":{"field":"conc"}}},
{"data":{"name":"isolates"},"transform":[{"calculate":"datum.iso==1?0.91:datum.iso","as":"bx"}],"mark":{"type":"text","fontSize":12,"color":"#333","baseline":"middle"},"encoding":{"x":{"field":"bx","type":"quantitative"},"y":{"datum":-0.5,"type":"quantitative"},"text":{"value":"baseline"}}},
{"mark":{"type":"text","fontSize":12,"color":"#333","baseline":"middle"},"encoding":{"x":{"datum":5.95,"type":"quantitative"},"y":{"datum":-0.5,"type":"quantitative"},"text":{"value":"μM"}}},
{"data":{"name":"isolates"},"transform":[{"calculate":"datum.iso==1?0.94:datum.iso","as":"bx"}],"mark":{"type":"text","fontSize":13,"fontWeight":"bold","color":"#000","baseline":"middle"},"encoding":{"x":{"field":"bx","type":"quantitative"},"y":{"datum":-1.58,"type":"quantitative"},"text":{"field":"name"}}},
{"mark":{"type":"text","align":"left","baseline":"alphabetic","fontSize":35,"fontWeight":"bold","color":"#111"},"encoding":{"x":{"datum":-0.19,"type":"quantitative"},"y":{"datum":-2.9,"type":"quantitative"},"text":{"value":"D."}}},
{"mark":{"type":"text","align":"left","baseline":"alphabetic","fontSize":24,"fontWeight":"bold","fontStyle":"italic","color":"#111"},"encoding":{"x":{"datum":0.77,"type":"quantitative"},"y":{"datum":-2.9,"type":"quantitative"},"text":{"value":"Nevirapine"}}},
{"mark":{"type":"text","align":"left","baseline":"alphabetic","fontSize":23,"fontStyle":"italic","color":"#222"},"encoding":{"x":{"datum":2.41,"type":"quantitative"},"y":{"datum":-2.9,"type":"quantitative"},"text":{"value":"+ Adefovir"}}},
{"mark":{"type":"rule","strokeWidth":1.3,"color":"#111"},"encoding":{"x":{"datum":0.77,"type":"quantitative"},"x2":{"datum":3.751},"y":{"datum":-2.74,"type":"quantitative"}}}
]},
{"width": 450, "height": 403, "data": {"values": [{}]}, "resolve": {"scale": {"shape": "independent"}},
"layer": [
{"data":{"name":"rows"},"transform":[{"filter":"datum.p=='E' && datum.passage<12"}],"mark":{"type":"rule","strokeDash":[9,4],"strokeWidth":1,"color":"#000"},"encoding":{"x":{"datum":0,"type":"quantitative","scale":{"domain":[0,0.5,1.5,2.5,3.5,4.5,5.5,6.5],"range":[17.3,37.7,107.3,179.3,256,327.7,400,443.3],"zero":false,"nice":false}},"x2":{"datum":6.5},"y":{"field":"passage","type":"quantitative","scale":{"domain":[-5,-1,0,1,2,3,4,5,6,7,8,9,10,11,12],"range":[30.7,106.7,126,145.7,181.7,199.3,218.3,236.7,274,310.7,329.3,347.3,366,384.3,401.7],"zero":false,"nice":false}}}},
{"data":{"name":"isolates"},"transform":[{"filter":"datum.iso<5"},{"calculate":"datum.iso+0.5","as":"edge"}],"mark":{"type":"rule","strokeDash":[9,4],"strokeWidth":1,"color":"#000"},"encoding":{"x":{"field":"edge","type":"quantitative"},"y":{"datum":-1,"type":"quantitative"},"y2":{"datum":12}}},
{"mark":{"type":"rule","strokeWidth":2,"color":"#000"},"encoding":{"x":{"datum":0,"type":"quantitative"},"x2":{"datum":6.5},"y":{"datum":0,"type":"quantitative"}}},
{"mark":{"type":"rule","strokeWidth":1.5,"color":"#000"},"encoding":{"x":{"datum":0.5,"type":"quantitative"},"y":{"datum":0,"type":"quantitative"},"y2":{"datum":12}}},
{"mark":{"type":"rule","strokeWidth":1,"color":"#000"},"encoding":{"x":{"datum":5.45,"type":"quantitative"},"y":{"datum":-1,"type":"quantitative"},"y2":{"datum":12}}},
{"mark":{"type":"rule","strokeWidth":2.2,"color":"#000"},"encoding":{"x":{"datum":5.5,"type":"quantitative"},"y":{"datum":-1,"type":"quantitative"},"y2":{"datum":12}}},
{"mark":{"type":"rect","filled":false,"color":"#000","strokeWidth":2.5},"encoding":{"x":{"datum":0,"type":"quantitative"},"x2":{"datum":6.5},"y":{"datum":-1,"type":"quantitative"},"y2":{"datum":12}}},
{"data":{"name":"arrows"},"transform":[{"filter":"datum.p=='E'"}],"mark":{"type":"rule","strokeWidth":2.3,"color":"#000","y2Offset":-4},"encoding":{"x":{"field":"iso","type":"quantitative"},"y":{"field":"from","type":"quantitative"},"y2":{"field":"to"}}},
{"data":{"name":"waves"},"transform":[{"filter":"datum.p=='E'"}],"mark":{"type":"point","filled":true,"color":"#fff","opacity":1,"size":3600,"strokeWidth":0},"encoding":{"x":{"field":"iso","type":"quantitative"},"y":{"field":"at","type":"quantitative"},"shape":{"field":"kind","type":"nominal","legend":null,"scale":{"domain":["coil","medium","loose"],"range":["M-0.1,-0.367H0.1V0.367H-0.1Z","M-0.1,-0.533H0.1V0.533H-0.1Z","M-0.1,-0.867H0.1V0.867H-0.1Z"]}}}},
{"data":{"name":"waves"},"transform":[{"filter":"datum.p=='E'"}],"mark":{"type":"point","filled":false,"color":"#000","opacity":1,"size":3600,"strokeWidth":2.2},"encoding":{"x":{"field":"iso","type":"quantitative"},"y":{"field":"at","type":"quantitative"},"shape":{"field":"kind","type":"nominal","legend":null,"scale":{"domain":["coil","medium","loose"],"range":["M0,-0.367Q0.367,-0.306,0,-0.244Q-0.367,-0.183,0,-0.122Q0.367,-0.061,0,0Q-0.367,0.061,0,0.122Q0.367,0.183,0,0.244Q-0.367,0.306,0,0.367","M0,-0.533Q0.333,-0.444,0,-0.356Q-0.333,-0.267,0,-0.178Q0.333,-0.089,0,0Q-0.333,0.089,0,0.178Q0.333,0.267,0,0.356Q-0.333,0.444,0,0.533","M0,-0.867Q0.47,-0.65,0,-0.433Q-0.47,-0.217,0,0Q0.47,0.217,0,0.433Q-0.47,0.65,0,0.867"]}}}},
{"data":{"name":"arrows"},"transform":[{"filter":"datum.p=='E'"}],"mark":{"type":"point","shape":"M-0.9,-1L0,-0.5L0.9,-1L0,1Z","filled":true,"color":"#000","opacity":1,"size":182,"yOffset":-6.7,"strokeWidth":0},"encoding":{"x":{"field":"iso","type":"quantitative"},"y":{"field":"to","type":"quantitative"}}},
{"data":{"name":"labels"},"transform":[{"filter":"datum.p=='E' && indexof(datum.label,'\\n')<0"},{"calculate":"datum.passage-0.5","as":"yc"}],"mark":{"type":"text","font":"DejaVu Sans","fontSize":11,"color":"#333","baseline":"middle"},"encoding":{"x":{"field":"iso","type":"quantitative"},"y":{"field":"yc","type":"quantitative"},"text":{"field":"label"}}},
{"data":{"name":"labels"},"transform":[{"filter":"datum.p=='E' && indexof(datum.label,'\\n')>=0"},{"calculate":"datum.passage-0.5","as":"yc"}],"mark":{"type":"text","font":"DejaVu Sans","fontSize":11,"color":"#333","baseline":"middle","lineBreak":"\n","lineHeight":17,"dy":-8.5},"encoding":{"x":{"field":"iso","type":"quantitative"},"y":{"field":"yc","type":"quantitative"},"text":{"field":"label"}}},
{"data":{"name":"rows"},"transform":[{"filter":"datum.p=='E'"},{"calculate":"datum.passage-0.5","as":"yc"}],"mark":{"type":"text","fontSize":12,"fontWeight":"bold","color":"#000","baseline":"middle"},"encoding":{"x":{"datum":0.25,"type":"quantitative"},"y":{"field":"yc","type":"quantitative"},"text":{"field":"passage","type":"nominal"}}},
{"data":{"name":"rows"},"transform":[{"filter":"datum.p=='E'"},{"calculate":"datum.passage-0.5","as":"yc"}],"mark":{"type":"text","fontSize":12,"fontWeight":"bold","color":"#000","baseline":"middle"},"encoding":{"x":{"datum":5.95,"type":"quantitative"},"y":{"field":"yc","type":"quantitative"},"text":{"field":"conc"}}},
{"data":{"name":"isolates"},"transform":[{"calculate":"datum.iso==1?0.91:datum.iso","as":"bx"}],"mark":{"type":"text","fontSize":12,"color":"#333","baseline":"middle"},"encoding":{"x":{"field":"bx","type":"quantitative"},"y":{"datum":-0.5,"type":"quantitative"},"text":{"value":"baseline"}}},
{"mark":{"type":"text","fontSize":12,"color":"#333","baseline":"middle"},"encoding":{"x":{"datum":5.95,"type":"quantitative"},"y":{"datum":-0.5,"type":"quantitative"},"text":{"value":"μM"}}},
{"data":{"name":"isolates"},"transform":[{"calculate":"datum.iso==1?0.94:datum.iso","as":"bx"}],"mark":{"type":"text","fontSize":13,"fontWeight":"bold","color":"#000","baseline":"middle"},"encoding":{"x":{"field":"bx","type":"quantitative"},"y":{"datum":-1.58,"type":"quantitative"},"text":{"field":"name"}}},
{"mark":{"type":"text","align":"left","baseline":"alphabetic","fontSize":35,"fontWeight":"bold","color":"#111"},"encoding":{"x":{"datum":-0.18,"type":"quantitative"},"y":{"datum":-2.9,"type":"quantitative"},"text":{"value":"E."}}},
{"mark":{"type":"text","align":"left","baseline":"alphabetic","fontSize":24,"fontWeight":"bold","fontStyle":"italic","color":"#111"},"encoding":{"x":{"datum":0.677,"type":"quantitative"},"y":{"datum":-2.9,"type":"quantitative"},"text":{"value":"Nevirapine"}}},
{"mark":{"type":"text","align":"left","baseline":"alphabetic","fontSize":23,"fontStyle":"italic","color":"#222"},"encoding":{"x":{"datum":2.33,"type":"quantitative"},"y":{"datum":-2.9,"type":"quantitative"},"text":{"value":"+ Lamivudine"}}},
{"mark":{"type":"rule","strokeWidth":1.3,"color":"#111"},"encoding":{"x":{"datum":0.677,"type":"quantitative"},"x2":{"datum":2.28},"y":{"datum":-2.74,"type":"quantitative"}}},
{"mark":{"type":"rule","strokeWidth":1.3,"color":"#111","strokeDash":[4,2]},"encoding":{"x":{"datum":2.28,"type":"quantitative"},"x2":{"datum":4.2},"y":{"datum":-2.74,"type":"quantitative"}}}
]},
{"width": 457, "height": 403, "data": {"values": [{}]}, "resolve": {"scale": {"shape": "independent"}},
"layer": [
{"data":{"name":"rows"},"transform":[{"filter":"datum.p=='F' && datum.passage<12"}],"mark":{"type":"rule","strokeDash":[9,4],"strokeWidth":1,"color":"#000"},"encoding":{"x":{"datum":0,"type":"quantitative","scale":{"domain":[0,0.5,1.5,2.5,3.5,4.5,5.5,6.5],"range":[22,40.7,111.7,183.3,260,331.7,404,446],"zero":false,"nice":false}},"x2":{"datum":6.5},"y":{"field":"passage","type":"quantitative","scale":{"domain":[-5,-1,0,1,2,3,4,5,6,7,8,9,10,11,12],"range":[32.3,108.3,129.3,146.7,164.3,182.7,201.7,220,238.3,256.7,293.3,312.7,331,349.3,368.3],"zero":false,"nice":false}}}},
{"mark":{"type":"rect","color":"#fff"},"encoding":{"x":{"datum":2.5,"type":"quantitative"},"x2":{"datum":3.5},"y":{"datum":0,"type":"quantitative"},"y2":{"datum":12}}},
{"data":{"name":"isolates"},"transform":[{"filter":"datum.iso<5"},{"calculate":"datum.iso+0.5","as":"edge"}],"mark":{"type":"rule","strokeDash":[9,4],"strokeWidth":1,"color":"#000"},"encoding":{"x":{"field":"edge","type":"quantitative"},"y":{"datum":-1,"type":"quantitative"},"y2":{"datum":12}}},
{"mark":{"type":"rule","strokeWidth":2,"color":"#000"},"encoding":{"x":{"datum":0,"type":"quantitative"},"x2":{"datum":6.5},"y":{"datum":0,"type":"quantitative"}}},
{"mark":{"type":"rule","strokeWidth":1.5,"color":"#000"},"encoding":{"x":{"datum":0.5,"type":"quantitative"},"y":{"datum":0,"type":"quantitative"},"y2":{"datum":12}}},
{"mark":{"type":"rule","strokeWidth":1,"color":"#000"},"encoding":{"x":{"datum":5.45,"type":"quantitative"},"y":{"datum":-1,"type":"quantitative"},"y2":{"datum":12}}},
{"mark":{"type":"rule","strokeWidth":2.2,"color":"#000"},"encoding":{"x":{"datum":5.5,"type":"quantitative"},"y":{"datum":-1,"type":"quantitative"},"y2":{"datum":12}}},
{"mark":{"type":"rect","filled":false,"color":"#000","strokeWidth":2.5},"encoding":{"x":{"datum":0,"type":"quantitative"},"x2":{"datum":6.5},"y":{"datum":-1,"type":"quantitative"},"y2":{"datum":12}}},
{"data":{"name":"arrows"},"transform":[{"filter":"datum.p=='F'"}],"mark":{"type":"rule","strokeWidth":2.3,"color":"#000","y2Offset":-4},"encoding":{"x":{"field":"iso","type":"quantitative"},"y":{"field":"from","type":"quantitative"},"y2":{"field":"to"}}},
{"data":{"name":"waves"},"transform":[{"filter":"datum.p=='F'"}],"mark":{"type":"point","filled":true,"color":"#fff","opacity":1,"size":3600,"strokeWidth":0},"encoding":{"x":{"field":"iso","type":"quantitative"},"y":{"field":"at","type":"quantitative"},"shape":{"field":"kind","type":"nominal","legend":null,"scale":{"domain":["coil","medium","loose"],"range":["M-0.1,-0.367H0.1V0.367H-0.1Z","M-0.1,-0.533H0.1V0.533H-0.1Z","M-0.1,-0.867H0.1V0.867H-0.1Z"]}}}},
{"data":{"name":"waves"},"transform":[{"filter":"datum.p=='F'"}],"mark":{"type":"point","filled":false,"color":"#000","opacity":1,"size":3600,"strokeWidth":2.2},"encoding":{"x":{"field":"iso","type":"quantitative"},"y":{"field":"at","type":"quantitative"},"shape":{"field":"kind","type":"nominal","legend":null,"scale":{"domain":["coil","medium","loose"],"range":["M0,-0.367Q0.367,-0.306,0,-0.244Q-0.367,-0.183,0,-0.122Q0.367,-0.061,0,0Q-0.367,0.061,0,0.122Q0.367,0.183,0,0.244Q-0.367,0.306,0,0.367","M0,-0.533Q0.333,-0.444,0,-0.356Q-0.333,-0.267,0,-0.178Q0.333,-0.089,0,0Q-0.333,0.089,0,0.178Q0.333,0.267,0,0.356Q-0.333,0.444,0,0.533","M0,-0.867Q0.47,-0.65,0,-0.433Q-0.47,-0.217,0,0Q0.47,0.217,0,0.433Q-0.47,0.65,0,0.867"]}}}},
{"data":{"name":"arrows"},"transform":[{"filter":"datum.p=='F'"}],"mark":{"type":"point","shape":"M-0.9,-1L0,-0.5L0.9,-1L0,1Z","filled":true,"color":"#000","opacity":1,"size":182,"yOffset":-6.7,"strokeWidth":0},"encoding":{"x":{"field":"iso","type":"quantitative"},"y":{"field":"to","type":"quantitative"}}},
{"data":{"name":"labels"},"transform":[{"filter":"datum.p=='F' && indexof(datum.label,'\\n')<0"},{"calculate":"datum.passage-0.5","as":"yc"}],"mark":{"type":"text","font":"DejaVu Sans","fontSize":11,"color":"#333","baseline":"middle"},"encoding":{"x":{"field":"iso","type":"quantitative"},"y":{"field":"yc","type":"quantitative"},"text":{"field":"label"}}},
{"data":{"name":"labels"},"transform":[{"filter":"datum.p=='F' && indexof(datum.label,'\\n')>=0"},{"calculate":"datum.passage-0.5","as":"yc"}],"mark":{"type":"text","font":"DejaVu Sans","fontSize":11,"color":"#333","baseline":"middle","lineBreak":"\n","lineHeight":17,"dy":-8.5},"encoding":{"x":{"field":"iso","type":"quantitative"},"y":{"field":"yc","type":"quantitative"},"text":{"field":"label"}}},
{"data":{"name":"rows"},"transform":[{"filter":"datum.p=='F'"},{"calculate":"datum.passage-0.5","as":"yc"}],"mark":{"type":"text","fontSize":12,"fontWeight":"bold","color":"#000","baseline":"middle"},"encoding":{"x":{"datum":0.25,"type":"quantitative"},"y":{"field":"yc","type":"quantitative"},"text":{"field":"passage","type":"nominal"}}},
{"data":{"name":"rows"},"transform":[{"filter":"datum.p=='F'"},{"calculate":"datum.passage-0.5","as":"yc"}],"mark":{"type":"text","fontSize":12,"fontWeight":"bold","color":"#000","baseline":"middle"},"encoding":{"x":{"datum":5.95,"type":"quantitative"},"y":{"field":"yc","type":"quantitative"},"text":{"field":"conc"}}},
{"data":{"name":"isolates"},"transform":[{"calculate":"datum.iso==1?0.91:datum.iso","as":"bx"}],"mark":{"type":"text","fontSize":12,"color":"#333","baseline":"middle"},"encoding":{"x":{"field":"bx","type":"quantitative"},"y":{"datum":-0.5,"type":"quantitative"},"text":{"value":"baseline"}}},
{"mark":{"type":"text","fontSize":12,"color":"#333","baseline":"middle"},"encoding":{"x":{"datum":5.95,"type":"quantitative"},"y":{"datum":-0.5,"type":"quantitative"},"text":{"value":"μM"}}},
{"data":{"name":"isolates"},"transform":[{"calculate":"datum.iso==1?0.94:datum.iso","as":"bx"}],"mark":{"type":"text","fontSize":13,"fontWeight":"bold","color":"#000","baseline":"middle"},"encoding":{"x":{"field":"bx","type":"quantitative"},"y":{"datum":-1.58,"type":"quantitative"},"text":{"field":"name"}}},
{"mark":{"type":"text","align":"left","baseline":"alphabetic","fontSize":35,"fontWeight":"bold","color":"#111"},"encoding":{"x":{"datum":-0.19,"type":"quantitative"},"y":{"datum":-2.9,"type":"quantitative"},"text":{"value":"F."}}},
{"mark":{"type":"text","align":"left","baseline":"alphabetic","fontSize":24,"fontWeight":"bold","fontStyle":"italic","color":"#111"},"encoding":{"x":{"datum":0.673,"type":"quantitative"},"y":{"datum":-2.9,"type":"quantitative"},"text":{"value":"Nevirapine"}}},
{"mark":{"type":"text","align":"left","baseline":"alphabetic","fontSize":23,"fontStyle":"italic","color":"#222"},"encoding":{"x":{"datum":2.33,"type":"quantitative"},"y":{"datum":-2.9,"type":"quantitative"},"text":{"value":"+ Adefovir"}}},
{"mark":{"type":"text","align":"left","baseline":"alphabetic","fontSize":23,"fontStyle":"italic","color":"#222"},"encoding":{"x":{"datum":3.723,"type":"quantitative"},"y":{"datum":-2.9,"type":"quantitative"},"text":{"value":"+ Lamivudine"}}},
{"mark":{"type":"rule","strokeWidth":1.3,"color":"#111"},"encoding":{"x":{"datum":0.673,"type":"quantitative"},"x2":{"datum":3.66},"y":{"datum":-2.74,"type":"quantitative"}}},
{"mark":{"type":"rule","strokeWidth":1.3,"color":"#111","strokeDash":[4,2]},"encoding":{"x":{"datum":3.66,"type":"quantitative"},"x2":{"datum":5.79},"y":{"datum":-2.74,"type":"quantitative"}}}
]}
]
}
